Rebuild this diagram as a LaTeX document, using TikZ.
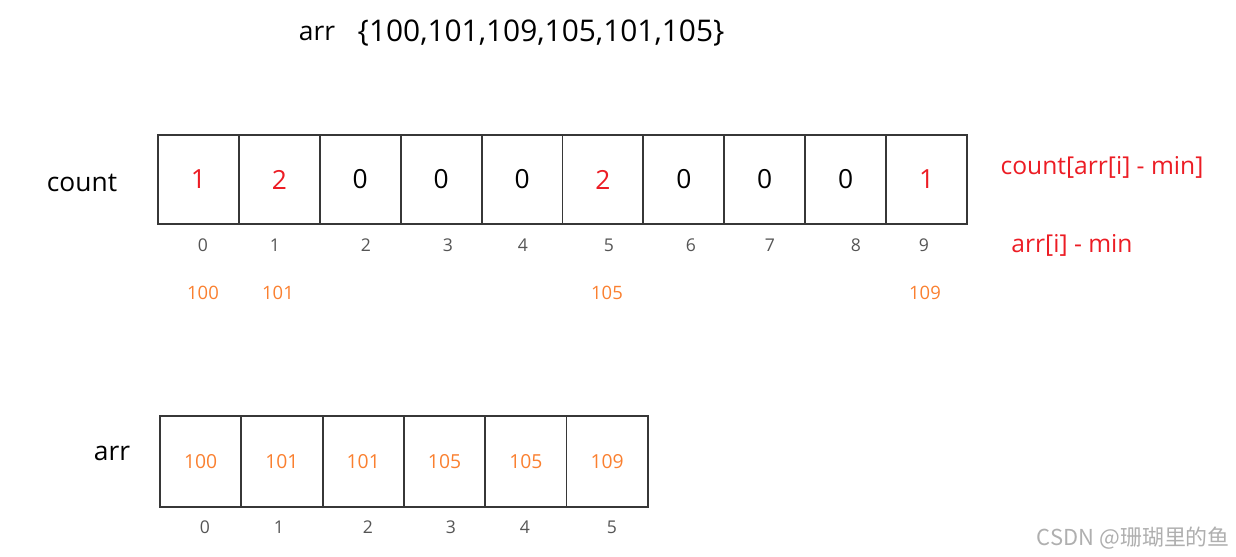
\documentclass[tikz,border=0pt]{standalone}
\usepackage{fontspec}
\setmainfont{Open Sans}
\newfontfamily\cjkfont{Noto Sans CJK SC}
\definecolor{cntred}{RGB}{236,28,36}
\definecolor{valorange}{RGB}{250,128,48}
\definecolor{idxgray}{RGB}{85,85,85}
\definecolor{cellline}{RGB}{55,55,55}
\definecolor{markgray}{RGB}{175,175,175}
\tikzset{
  cell/.style={draw=cellline, line width=1.1pt, inner sep=0pt,
    minimum width=1.618cm, minimum height=1.78cm,
    font=\fontsize{15}{18}\selectfont},
  idx/.style={text=idxgray, inner sep=1pt, font=\fontsize{10}{12}\selectfont},
  orangeval/.style={text=valorange, inner sep=1pt, font=\fontsize{10.5}{12}\selectfont},
  redtag/.style={text=cntred, inner sep=1pt, font=\fontsize{14}{16}\selectfont},
  plain/.style={inner sep=1pt, font=\fontsize{15}{18}\selectfont}
}

\begin{document}
\begin{tikzpicture}[x=0.02cm, y=-0.02cm]
  \useasboundingbox (0,0) rectangle (1236,557);
  % title line
  \node[plain] (ttlarr) at (317,33) {arr};
  \node[inner sep=1pt, font=\fontsize{17}{20}\selectfont] (ttlset) at (541,33) {\{100,101,109,105,101,105\}};
  % count array
  \node[plain] (cntlbl) at (82,183) {count};
  \foreach \v/\c [count=\i from 0] in {1/cntred,2/cntred,0/black,0/black,0/black,2/cntred,0/black,0/black,0/black,1/cntred}
    \node[cell, text=\c] (cnt\i) at ({158+80.9*(\i+0.5)},179.5) {\v};
  \foreach \x [count=\i from 0] in {203,275,366,448,523,609,691,770,856,924}
    \node[idx] (cidx\i) at (\x,245) {\i};
  \node[redtag] (cnttag) at (1102,167) {count[arr[i] - min]};
  \node[redtag] (idxtag) at (1072,245) {arr[i] - min};
  % values that land in each slot
  \foreach \v/\x in {100/203,101/278,105/607,109/925}
    \node[orangeval] (slot\v) at (\x,293) {\v};
  % sorted arr
  \node[plain] (arrlbl) at (112,453) {arr};
  \foreach \v [count=\i from 0] in {100,101,101,105,105,109}
    \node[cell, minimum width=1.626cm, minimum height=1.82cm, text=valorange,
      font=\fontsize{11}{13}\selectfont] (arr\i) at ({160+81.3*(\i+0.5)},461.5) {\v};
  \foreach \x [count=\i from 0] in {205,279,368,451,525,612}
    \node[idx] (aidx\i) at (\x,527) {\i};
  \node[anchor=east, text=markgray, inner sep=1pt, font=\cjkfont\fontsize{12.5}{14}\selectfont] (mark) at (1232,538) {CSDN @珊瑚里的鱼};
\end{tikzpicture}
\end{document}
